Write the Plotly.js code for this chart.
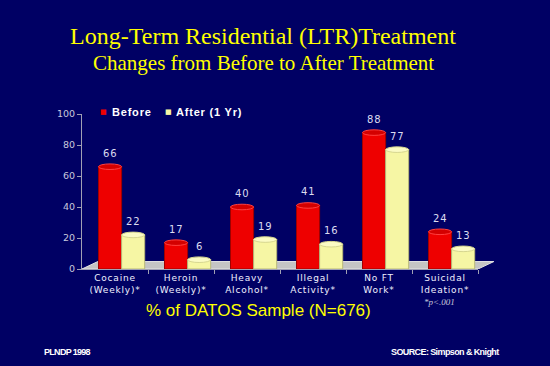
<!DOCTYPE html>
<html>
<head>
<meta charset="utf-8">
<script src="https://cdn.plot.ly/plotly-3.0.1.min.js"></script>
<style>html,body{margin:0;padding:0;background:#000064;}#chart{width:550px;height:366px;}</style>
</head>
<body>
<div id="chart"></div>
<script>
var categories = ["Cocaine<br>(Weekly)*", "Heroin<br>(Weekly)*", "Heavy<br>Alcohol*", "Illegal<br>Activity*", "No FT<br>Work*", "Suicidal<br>Ideation*"];
var beforeValues = [66, 17, 40, 41, 88, 24];
var afterValues = [22, 6, 19, 16, 77, 13];
var seriesNames = ["Before", "After (1 Yr)"];
var yTicks = [0, 20, 40, 60, 80, 100];

var RED = "#ee0000", YEL = "#f6f6a4";
var barW = 0.35, offBefore = -0.25, offAfter = 0.10;
var idx = categories.map(function(_, i){ return i; });
var LS = "letter-spacing:0.8px";
function spaced(s){ return s.split("<br>").map(function(p){ return "<span style='" + LS + "'>" + p + "</span>"; }).join("<br>"); }

var traces = [
  {type:"bar", name:seriesNames[0], x:idx, y:beforeValues, width:barW, offset:offBefore,
   marker:{color:RED, line:{color:"#a00000", width:1}}, showlegend:false},
  {type:"bar", name:seriesNames[1], x:idx, y:afterValues, width:barW, offset:offAfter,
   marker:{color:YEL, line:{color:"#b8b878", width:1}}, showlegend:false}
];

var shapes = [
  {type:"path", xref:"paper", yref:"y", layer:"below",
   path:"M 0 0 L 1 0 L 1.04 4.8 L 0.04 4.8 Z",
   fillcolor:"#c4c4c4", line:{color:"#e4e4e4", width:1}}
];
function caps(vals, off, fill, lc){
  vals.forEach(function(v, i){
    shapes.push({type:"circle", xref:"x", yref:"y", layer:"above",
      x0:i+off, x1:i+off+barW, y0:v-1.8, y1:v+1.8,
      fillcolor:fill, line:{color:lc, width:1}});
  });
}
caps(beforeValues, offBefore, "#d40000", "#ff4040");
caps(afterValues, offAfter, "#fbfbc4", "#d6d690");

var annotations = [];
function valueLabels(vals, off){
  vals.forEach(function(v, i){
    annotations.push({text:"<span style='" + LS + "'>" + v + "</span>", xref:"x", yref:"y",
      x:i+off+barW/2, y:v, yshift:13.5, xanchor:"center", yanchor:"middle", showarrow:false,
      font:{family:"DejaVu Sans, Verdana", size:10, color:"#dcdcf0"}});
  });
}
valueLabels(beforeValues, offBefore);
valueLabels(afterValues, offAfter);

// legend (drawn as text)
var legendItems = [
  {name:seriesNames[0], color:RED, sx:103, tx:110},
  {name:seriesNames[1], color:YEL, sx:168, tx:174}
];
legendItems.forEach(function(it){
  annotations.push({text:"■", xref:"paper", yref:"paper", x:(it.sx-82)/396, y:(269-112)/155,
    xanchor:"center", yanchor:"middle", showarrow:false,
    font:{family:"DejaVu Sans", size:7, color:it.color}});
  annotations.push({text:"<b><span style='" + LS + "'>" + it.name + "</span></b>", xref:"paper", yref:"paper",
    x:(it.tx-82)/396, y:(269-112)/155, xanchor:"left", yanchor:"middle", showarrow:false,
    font:{family:"Liberation Sans, Arial", size:11, color:"#ffffff"}});
});

annotations = annotations.concat([
  {text:"Changes from Before to After Treatment", xref:"paper", yref:"paper",
   x:(263-82)/396, y:(269-63)/155, xanchor:"center", yanchor:"middle", showarrow:false,
   font:{family:"Liberation Serif, serif", size:21, color:"#ffff00"}},
  {text:"% of DATOS Sample (N=676)", xref:"paper", yref:"paper",
   x:(258-82)/396, y:(269-310)/155, xanchor:"center", yanchor:"middle", showarrow:false,
   font:{family:"Liberation Sans, Arial", size:17, color:"#ffff00"}},
  {text:"<i>*p<.001</i>", xref:"paper", yref:"paper",
   x:(439-82)/396, y:(269-302)/155, xanchor:"center", yanchor:"middle", showarrow:false,
   font:{family:"Liberation Serif, serif", size:9, color:"#c8c8dc"}},
  {text:"<b><span style='letter-spacing:-0.7px'>PLNDP 1998</span></b>", xref:"paper", yref:"paper",
   x:(42-82)/396, y:(269-352)/155, xanchor:"left", yanchor:"middle", showarrow:false,
   font:{family:"Liberation Sans, Arial", size:9, color:"#ffffff"}},
  {text:"<b><span style='letter-spacing:-0.6px'>SOURCE: Simpson & Knight</span></b>", xref:"paper", yref:"paper",
   x:(501-82)/396, y:(269-352)/155, xanchor:"right", yanchor:"middle", showarrow:false,
   font:{family:"Liberation Sans, Arial", size:9, color:"#ffffff"}}
]);

var layout = {
  width:550, height:366,
  paper_bgcolor:"#000064", plot_bgcolor:"rgba(0,0,0,0)",
  margin:{l:82, r:72, t:114, b:97},
  barmode:"overlay",
  showlegend:false,
  title:{text:"Long-Term Residential (LTR)Treatment", x:263/550, xanchor:"center",
    y:1-36/366, yanchor:"middle", yref:"container",
    font:{family:"Liberation Serif, serif", size:24, color:"#ffff00"}},
  xaxis:{type:"linear", range:[-0.5, 5.5], tickmode:"array", tickvals:idx, ticktext:categories.map(spaced),
    showline:true, linecolor:"#a0a0b4", linewidth:1, showgrid:false, zeroline:false,
    ticks:"", ticklen:0,
    minor:{tickvals:[0.5,1.5,2.5,3.5,4.5,5.5], ticks:"outside", ticklen:4, tickcolor:"#a0a0b4"},
    tickfont:{family:"DejaVu Sans, Verdana", size:9, color:"#f0f0ff"}},
  yaxis:{range:[0,100], tickvals:yTicks, showline:true, linecolor:"#a0a0b4", linewidth:1,
    ticks:"outside", ticklen:4, tickcolor:"#a0a0b4", showgrid:false, zeroline:false,
    tickfont:{family:"DejaVu Sans, Verdana", size:9.5, color:"#c8c8dc"}},
  shapes:shapes,
  annotations:annotations
};

Plotly.newPlot("chart", traces, layout, {displayModeBar:false, staticPlot:true});
</script>
</body>
</html>
